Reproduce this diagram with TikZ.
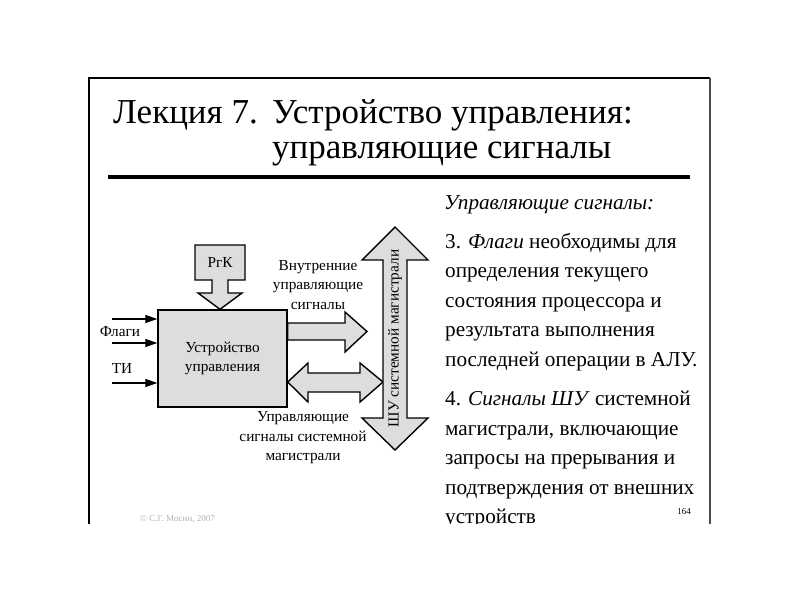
\documentclass[tikz,border=0pt]{standalone}
\usepackage{fontspec}
\setmainfont{Liberation Serif}
\usetikzlibrary{calc,positioning,arrows.meta}

\begin{document}
\begin{tikzpicture}[x=1pt,y=-1pt,
  blk/.style={draw,line width=1.4pt,fill=gray!27,line join=miter},
  lbl/.style={font=\fontsize{15.3}{19.5}\selectfont,align=center,inner sep=0pt},
  ttl/.style={font=\fontsize{35}{35}\selectfont,anchor=base west,inner sep=0pt},
  txt/.style={font=\fontsize{21.2}{21.2}\selectfont,anchor=base west,inner sep=0pt},
  sig/.style={line width=1.3pt,-{Triangle[length=12pt,width=8pt]}}]
\useasboundingbox (0,0) rectangle (800,600);
\begin{scope}
\clip (0,0) rectangle (800,523);
\draw[line width=1.5pt] (89,600) -- (89,78) -- (710,78);
\draw[line width=1.2pt,black!70] (710,78) -- (710,600);
\node[ttl] (lec) at (113,123) {Лекция 7.};
\node[ttl] (t1) at (272,123) {Устройство управления:};
\node[ttl] (t2) at (272,158) {управляющие сигналы};
\draw[line width=4pt] (108,177) -- (690,177);

\node[blk,lbl,minimum width=129pt,minimum height=97pt] (cu) at (222.5,358.5) {Устройство\\управления};
\draw[blk] (195,245) -- (245,245) -- (245,280) -- (228,280) -- (228,293) -- (242,293)
  -- (cu.north -| 220,0) -- (198,293) -- (212,293) -- (212,280) -- (195,280) -- cycle;
\node[lbl] (rgk) at (220,262.5) {РгК};

\coordinate (bus) at (395,338.5);
\draw[blk] (cu.east |- 0,323) -- (345,323) -- (345,312) -- (367,331.5) -- (345,352)
  -- (345,340) -- (cu.east |- 0,340) -- cycle;
\draw[blk] (cu.east |- 0,382) -- (308,363) -- (308,373) -- (360,373) -- (360,363)
  -- (383,382) -- (360,402) -- (360,392) -- (308,392) -- (308,402) -- cycle;
\draw[blk] (bus |- 0,227) -- (428,260) -- (407,260) -- (407,418) -- (428,418) -- (bus |- 0,450)
  -- (362,418) -- (383,418) -- (383,260) -- (362,260) -- cycle;
\node[lbl,rotate=90] (shu) at (bus) {ШУ системной магистрали};

\coordinate (f1) at (112,319);
\coordinate (f2) at (112,343);
\coordinate (ti) at (112,383);
\draw[sig] (f1) -- (f1 -| cu.west);
\draw[sig] (f2) -- (f2 -| cu.west);
\draw[sig] (ti) -- (ti -| cu.west);
\node[lbl] (flg) at (120,332) {Флаги};
\node[lbl] (til) at (122,368) {ТИ};

\node[lbl] (intl) at (318,285) {Внутренние\\управляющие\\сигналы};
\node[lbl] (extl) at (303,438) {Управляющие\\сигналы системной\\магистрали};

\node[txt] (hd) at (444,209) {\textit{Управляющие сигналы:}};
\foreach \t [count=\i] in {3. \textit{Флаги} необходимы для, определения текущего,
  состояния процессора и, результата выполнения, последней операции в АЛУ.}
  \node[txt] (p\i) at (445,{248+29.5*(\i-1)}) {\t};
\foreach \t [count=\i] in {4. \textit{Сигналы ШУ} системной, {магистрали, включающие},
  запросы на прерывания и, подтверждения от внешних, устройств}
  \node[txt] (q\i) at (445,{405.5+29.5*(\i-1)}) {\t};

\node[font=\fontsize{9}{9}\selectfont,anchor=base east,inner sep=0pt] (pg) at (691,514) {164};
\node[font=\fontsize{9}{9}\selectfont,text=black!30,anchor=base west,inner sep=0pt] (cr) at (140,521) {© С.Г. Мосин, 2007};
\end{scope}
\end{tikzpicture}
\end{document}
